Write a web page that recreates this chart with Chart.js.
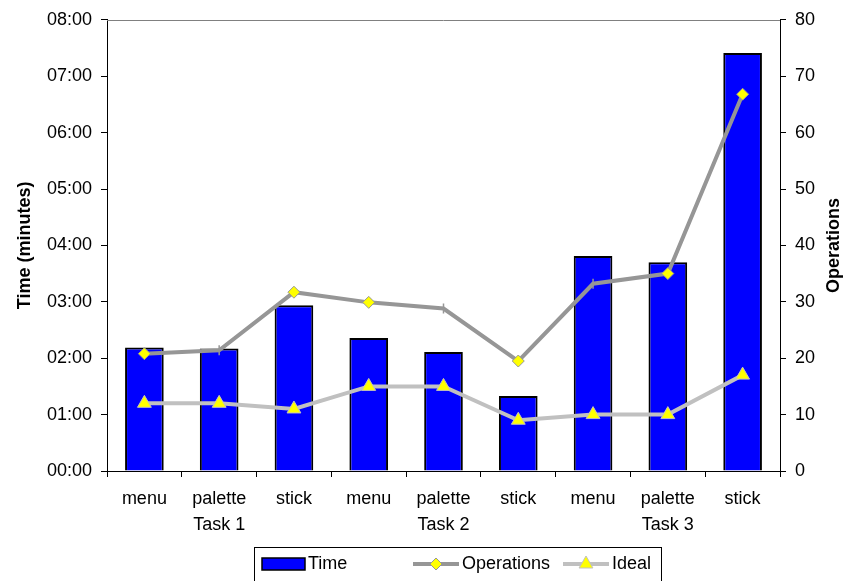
<!DOCTYPE html>
<html>
<head>
<meta charset="utf-8">
<script src="https://cdn.jsdelivr.net/npm/chart.js@4.4.1/dist/chart.umd.min.js"></script>
<style>
  html, body { margin: 0; padding: 0; background: #fff; }
  #wrap { width: 846px; height: 581px; }
</style>
</head>
<body>
<div id="wrap"><canvas id="taskChart" width="846" height="581"></canvas></div>
<script>
var categories = ['menu', 'palette', 'stick', 'menu', 'palette', 'stick', 'menu', 'palette', 'stick'];
var tasks = ['Task 1', 'Task 2', 'Task 3'];
// time in minutes
var timeMinutes = [2.19, 2.17, 2.94, 2.36, 2.11, 1.33, 3.81, 3.70, 7.41];
var operations = [20.8, 21.4, 31.7, 29.9, 28.8, 19.5, 33.2, 35.0, 66.8];
var ideal = [12, 12, 11, 15, 15, 9, 10, 10, 17];
// points where excel drew only a small tick instead of the diamond
var opsMarker = ['rectRot', 'line', 'rectRot', 'rectRot', 'line', 'rectRot', 'line', 'rectRot', 'rectRot'];

var labels = categories.map(function(c, i) {
  return i % 3 === 1 ? [c, tasks[(i - 1) / 3]] : c;
});

var FONT = "'Liberation Sans', Arial, sans-serif";

function pad2(v) {
  return (v < 10 ? '0' : '') + v + ':00';
}

function drawMarker(c, style, x, y, r, fill, stroke) {
  c.beginPath();
  if (style === 'rectRot') {
    c.moveTo(x, y - r); c.lineTo(x + r, y); c.lineTo(x, y + r); c.lineTo(x - r, y);
  } else {
    c.moveTo(x, y - r);
    c.lineTo(x + r * 0.866, y + r / 2);
    c.lineTo(x - r * 0.866, y + r / 2);
  }
  c.closePath();
  c.fillStyle = fill; c.fill();
  c.strokeStyle = stroke; c.lineWidth = 1; c.stroke();
}

var frameAndLegend = {
  id: 'frameAndLegend',
  beforeDatasetsDraw: function(chart) {
    var a = chart.chartArea, c = chart.ctx;
    c.save();
    c.strokeStyle = '#808080';
    c.lineWidth = 1;
    c.beginPath();
    c.moveTo(a.left, Math.round(a.top) + 0.5);
    c.lineTo(a.right, Math.round(a.top) + 0.5);
    c.stroke();
    c.restore();
  },
  afterDraw: function(chart) {
    var c = chart.ctx, a = chart.chartArea;
    c.save();
    // right axis title, reading bottom to top like the left one
    c.translate(chart.width - 12, (a.top + a.bottom) / 2);
    c.rotate(-Math.PI / 2);
    c.font = 'bold 18px ' + FONT;
    c.fillStyle = '#000';
    c.textAlign = 'center';
    c.textBaseline = 'middle';
    c.fillText('Operations', 0, 0);
    c.restore();

    // legend box
    c.save();
    c.strokeStyle = '#000';
    c.lineWidth = 1;
    c.strokeRect(254.5, 547.5, 407, 45);
    c.font = '18px ' + FONT;
    c.fillStyle = '#000';
    c.textBaseline = 'middle';
    var ys = 564;
    var ds = chart.data.datasets;
    var xs = [262, 413, 563];
    ds.forEach(function(d, i) {
      var x = xs[i];
      if (d.type === 'bar') {
        c.fillStyle = d.backgroundColor;
        c.fillRect(x, ys - 6, 43, 12);
        c.strokeStyle = d.borderColor;
        c.lineWidth = 1.5;
        c.strokeRect(x, ys - 6, 43, 12);
        c.fillStyle = '#000';
        c.fillText(d.label, x + 46, ys);
      } else {
        c.strokeStyle = d.borderColor;
        c.lineWidth = d.borderWidth;
        c.beginPath();
        c.moveTo(x, ys); c.lineTo(x + 46, ys);
        c.stroke();
        drawMarker(c, d.legendMarker, x + 23, ys, d.legendRadius, d.pointBackgroundColor, d.pointBorderColor);
        c.fillStyle = '#000';
        c.fillText(d.label, x + 49, ys);
      }
    });
    c.restore();
  }
};

var chart = new Chart(document.getElementById('taskChart').getContext('2d'), {
  data: {
    labels: labels,
    datasets: [{
      type: 'bar',
      label: 'Time',
      data: timeMinutes,
      yAxisID: 'y',
      backgroundColor: '#0000FF',
      borderColor: '#000000',
      borderWidth: 2,
      barPercentage: 0.517,
      categoryPercentage: 1,
      order: 3
    }, {
      type: 'line',
      label: 'Operations',
      data: operations,
      yAxisID: 'y2',
      borderColor: '#969696',
      borderWidth: 4,
      pointStyle: opsMarker,
      pointRotation: opsMarker.map(function(s) { return s === 'line' ? 90 : 0; }),
      pointRadius: opsMarker.map(function(s) { return s === 'line' ? 5 : 6; }),
      pointBackgroundColor: '#FFFF00',
      pointBorderColor: '#969696',
      pointBorderWidth: opsMarker.map(function(s) { return s === 'line' ? 1.5 : 1; }),
      legendMarker: 'rectRot',
      legendRadius: 6,
      tension: 0,
      fill: false,
      order: 1
    }, {
      type: 'line',
      label: 'Ideal',
      data: ideal,
      yAxisID: 'y2',
      borderColor: '#C0C0C0',
      borderWidth: 4,
      pointStyle: 'triangle',
      pointRadius: 8,
      pointBackgroundColor: '#FFFF00',
      pointBorderColor: '#C0C0C0',
      pointBorderWidth: 1,
      legendMarker: 'triangle',
      legendRadius: 8,
      tension: 0,
      fill: false,
      order: 2
    }]
  },
  plugins: [frameAndLegend],
  options: {
    responsive: false,
    animation: false,
    layout: {
      padding: { top: 17, right: 0, bottom: 34, left: 0 }
    },
    plugins: {
      legend: { display: false },
      tooltip: { enabled: false }
    },
    scales: {
      x: {
        type: 'category',
        offset: true,
        grid: {
          offset: true,
          drawOnChartArea: false,
          tickLength: 6,
          color: '#000'
        },
        border: { color: '#000', width: 1 },
        ticks: {
          color: '#000',
          padding: 9,
          maxRotation: 0,
          autoSkip: false,
          font: { family: FONT, size: 18, lineHeight: 1.45 }
        },
        afterFit: function(s) { s.height = 76; }
      },
      y: {
        position: 'left',
        min: 0,
        max: 8,
        grid: {
          drawOnChartArea: false,
          tickLength: 6,
          color: '#000'
        },
        border: { color: '#000', width: 1 },
        ticks: {
          stepSize: 1,
          color: '#000',
          padding: 9,
          font: { family: FONT, size: 18 },
          callback: function(v) { return pad2(v); }
        },
        title: {
          display: true,
          text: 'Time (minutes)',
          color: '#000',
          padding: { top: 14, bottom: 0 },
          font: { family: FONT, size: 18, weight: 'bold' }
        },
        afterFit: function(s) { s.width = 107; }
      },
      y2: {
        position: 'right',
        min: 0,
        max: 80,
        grid: {
          drawOnChartArea: false,
          tickLength: 6,
          color: '#000'
        },
        border: { color: '#000', width: 1 },
        ticks: {
          stepSize: 10,
          color: '#000',
          padding: 9,
          font: { family: FONT, size: 18 }
        },
        afterFit: function(s) { s.width = 66; }
      }
    }
  }
});
</script>
</body>
</html>
